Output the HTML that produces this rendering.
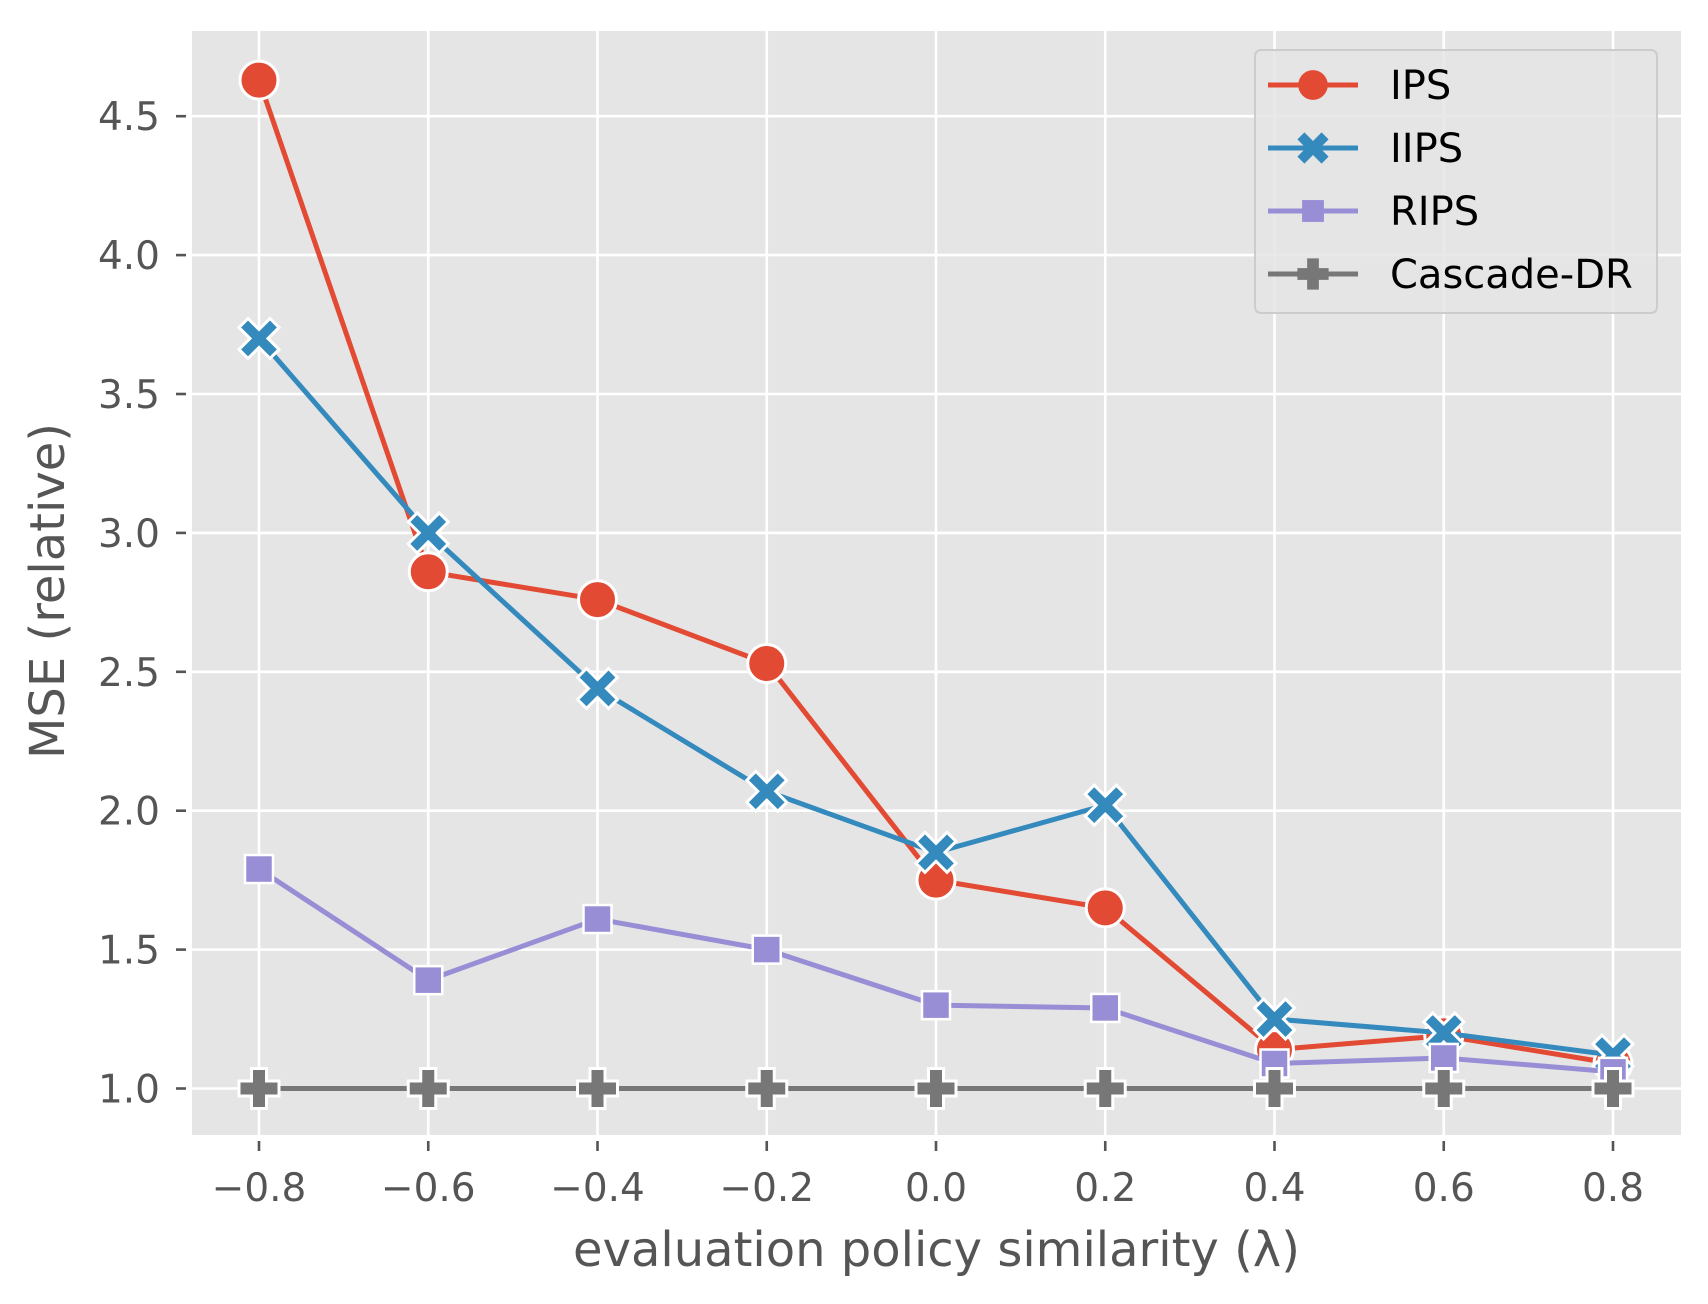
<!DOCTYPE html>
<html><head><meta charset="utf-8"><style>
html,body{margin:0;padding:0;background:#fff;}
svg{display:block;font-family:"DejaVu Sans","Liberation Sans",sans-serif;}
</style></head><body>
<svg id="chart" width="1708" height="1304" viewBox="0 0 1708 1304"></svg>
<script>
const categories = [-0.8, -0.6, -0.4, -0.2, 0.0, 0.2, 0.4, 0.6, 0.8];
const ipsValues = [4.63, 2.86, 2.76, 2.53, 1.75, 1.65, 1.14, 1.19, 1.09];
const iipsValues = [3.70, 3.00, 2.44, 2.07, 1.85, 2.02, 1.25, 1.20, 1.12];
const ripsValues = [1.79, 1.39, 1.61, 1.50, 1.30, 1.29, 1.09, 1.11, 1.06];
const cascadeValues = [1.0, 1.0, 1.0, 1.0, 1.0, 1.0, 1.0, 1.0, 1.0];
const yTicks = [1.0, 1.5, 2.0, 2.5, 3.0, 3.5, 4.0, 4.5];
const xTickLabels = ["\u22120.8","\u22120.6","\u22120.4","\u22120.2","0.0","0.2","0.4","0.6","0.8"];
const yTickLabels = ["1.0","1.5","2.0","2.5","3.0","3.5","4.0","4.5"];
const seriesNames = ["IPS","IIPS","RIPS","Cascade-DR"];

const NS = "http://www.w3.org/2000/svg";
const svg = document.getElementById('chart');
const P = {l:192, r:1681, t:31, b:1135};
function xs(v){ return 259 + (v + 0.8) * (1613 - 259) / 1.6; }
function ys(v){ return 1088.5 - (v - 1.0) * 277.8; }
function mk(tag, attrs, parent){
  const e = document.createElementNS(NS, tag);
  for (const k in attrs) e.setAttribute(k, attrs[k]);
  (parent || svg).appendChild(e);
  return e;
}
const bg = mk('rect',{x:P.l,y:P.t,width:P.r-P.l,height:P.b-P.t,fill:'#e5e5e5'});



yTicks.forEach((t,i)=>{
  const y = ys(t);
  const g = mk('line',{x1:P.l,x2:P.r,y1:y,y2:y,stroke:'#fff','stroke-width':2.6});
  
  
  const tk = mk('line',{x1:P.l-16,x2:P.l-6,y1:y,y2:y,stroke:'#555','stroke-width':2.6});
  
  
  const tx = mk('text',{x:P.l-32,y:y+14,'text-anchor':'end','font-size':39,fill:'#555'});
  tx.textContent = yTickLabels[i];
  
  
});
categories.forEach((c,i)=>{
  const x = xs(c);
  const g = mk('line',{x1:x,x2:x,y1:P.t,y2:P.b,stroke:'#fff','stroke-width':2.6});
  
  
  const tk = mk('line',{x1:x,x2:x,y1:P.b+6,y2:P.b+16,stroke:'#555','stroke-width':2.6});
  
  
  const tx = mk('text',{x:x,y:P.b+66,'text-anchor':'middle','font-size':39,fill:'#555'});
  tx.textContent = xTickLabels[i];
  
  
});

function marker(type, x, y, color, parent, s){
  s = s || 1;
  let e;
  if (type==='circle'){
    e = mk('circle',{cx:x,cy:y,r:19*s,fill:color,stroke:'#fff','stroke-width':3},parent);
  } else if (type==='x'){
    const a=20*s, w=9*s;
    const d = `M${x-a+w},${y-a} L${x},${y-w} L${x+a-w},${y-a} L${x+a},${y-a+w} L${x+w},${y} L${x+a},${y+a-w} L${x+a-w},${y+a} L${x},${y+w} L${x-a+w},${y+a} L${x-a},${y+a-w} L${x-w},${y} L${x-a},${y-a+w} Z`;
    e = mk('path',{d:d,fill:color,stroke:'#fff','stroke-width':3,'stroke-linejoin':'miter'},parent);
  } else if (type==='square'){
    const a=14*s;
    e = mk('rect',{x:x-a,y:y-a,width:2*a,height:2*a,fill:color,stroke:'#fff','stroke-width':2.5},parent);
  } else {
    const a=20*s, w=7.5*s;
    const d = `M${x-w},${y-a} H${x+w} V${y-w} H${x+a} V${y+w} H${x+w} V${y+a} H${x-w} V${y+w} H${x-a} V${y-w} H${x-w} Z`;
    e = mk('path',{d:d,fill:color,stroke:'#fff','stroke-width':3},parent);
  }
  return e;
}
const series = [
  {vals:ipsValues,color:'#e24a33',m:'circle',key:'ips'},
  {vals:iipsValues,color:'#348abd',m:'x',key:'iips'},
  {vals:ripsValues,color:'#988ed5',m:'square',key:'rips'},
  {vals:cascadeValues,color:'#777777',m:'plus',key:'cascade-dr'}
];
series.forEach(s=>{
  const g = mk('g',{});
  
  
  const pts = s.vals.map((v,i)=>xs(categories[i])+','+ys(v)).join(' ');
  const pl = mk('polyline',{points:pts,fill:'none',stroke:s.color,'stroke-width':5,'stroke-linejoin':'round'},g);
  
  
  s.vals.forEach((v,i)=>{
    const m = marker(s.m, xs(categories[i]), ys(v), s.color, g);
    
    
  });
});

// legend
const lg = mk('g',{});


mk('rect',{x:1255,y:50,width:402,height:263,rx:6,fill:'#e5e5e5','fill-opacity':0.85,stroke:'#cccccc','stroke-width':2},lg);
series.forEach((s,i)=>{
  const y = 85 + i*63;
  const eg = mk('g',{},lg);
  
  
  mk('line',{x1:1268,x2:1358,y1:y,y2:y,stroke:s.color,'stroke-width':5},eg);
  const m = marker(s.m, 1313, y, s.color, eg, 0.78);
  m.setAttribute('stroke','none');
  const t = mk('text',{x:1390,y:y+14,'font-size':40,fill:'#000'},eg);
  t.textContent = seriesNames[i];
});

const xl = mk('text',{x:(P.l+P.r)/2,y:1266,'text-anchor':'middle','font-size':48,fill:'#555'});
xl.textContent = 'evaluation policy similarity (\u03bb)';


const yl = mk('text',{x:0,y:0,'text-anchor':'middle','font-size':48,fill:'#555',transform:'translate(64,591) rotate(-90)'});
yl.textContent = 'MSE (relative)';


</script>
</body></html>
